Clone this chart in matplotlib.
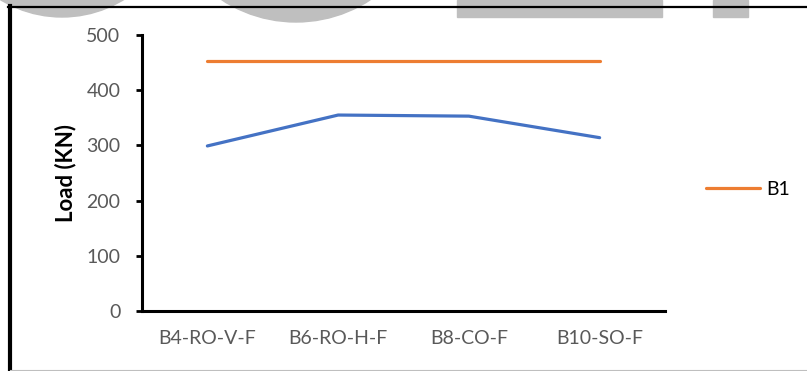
import matplotlib
matplotlib.use('Agg')
import matplotlib.pyplot as plt
from matplotlib.patches import Circle, Rectangle
from matplotlib.lines import Line2D

# Datos de carga por viga
categories = ['B4-RO-V-F', 'B6-RO-H-F', 'B8-CO-F', 'B10-SO-F']
load_b1 = [452, 452, 452, 452]
load_beams = [299, 355, 353, 314]
y_ticks = [0, 100, 200, 300, 400, 500]

plt.rcParams['font.family'] = ['Lato', 'DejaVu Sans']

W, H = 807, 371
fig = plt.figure(figsize=(W / 100, H / 100), dpi=100)
fig.patch.set_facecolor('white')

ax = fig.add_axes([142 / W, 1 - 311 / H, 523 / W, 276 / H])
x = range(len(categories))
ax.plot(x, load_b1, color='#ED7D31', linewidth=2.3, solid_capstyle='round', label='B1')
ax.plot(x, load_beams, color='#4472C4', linewidth=2.3, solid_capstyle='round')

ax.set_xlim(-0.5, len(categories) - 0.5)
ax.set_ylim(0, 500)
ax.set_yticks(y_ticks)
ax.set_xticks(list(x))
ax.set_xticklabels(categories)

for side in ['top', 'right']:
    ax.spines[side].set_visible(False)
for side in ['left', 'bottom']:
    ax.spines[side].set_linewidth(2.2)
    ax.spines[side].set_color('black')

ax.tick_params(axis='y', length=4.5, width=2, color='black', pad=11,
               labelsize=14, labelcolor='#595959')
ax.tick_params(axis='x', length=0, pad=14, labelsize=14, labelcolor='#595959')
ax.set_ylabel('Load (KN)', fontsize=16, fontweight='bold', color='black', labelpad=7)

ax.legend(loc='center left', bbox_to_anchor=(1.045, 0.442), frameon=False,
          handlelength=2.8, handletextpad=0.3, fontsize=14)

# Marca de agua gris en la parte superior
wm = '#bfbfbf'
fig.add_artist(Circle((62, H + 101), 118, transform=None, color=wm, zorder=0))
fig.add_artist(Circle((296, H + 113.5), 135.5, transform=None, color=wm, zorder=0))
fig.add_artist(Rectangle((457, H - 17), 205, 17, transform=None, color=wm, zorder=0))
fig.add_artist(Rectangle((713, H - 17), 35, 17, transform=None, color=wm, zorder=0))

# Marco del gráfico
fig.add_artist(Line2D([10 / W, 10 / W], [0, 1 - 6 / H], color='black', linewidth=3,
                      transform=fig.transFigure))
fig.add_artist(Line2D([8 / W, 1], [1 - 6.5 / H, 1 - 6.5 / H], color='black', linewidth=1.6,
                      transform=fig.transFigure))
fig.add_artist(Line2D([10 / W, 1], [1.5 / H, 1.5 / H], color='#bfbfbf', linewidth=0.8,
                      transform=fig.transFigure))

fig.savefig('out.png', dpi=100)
